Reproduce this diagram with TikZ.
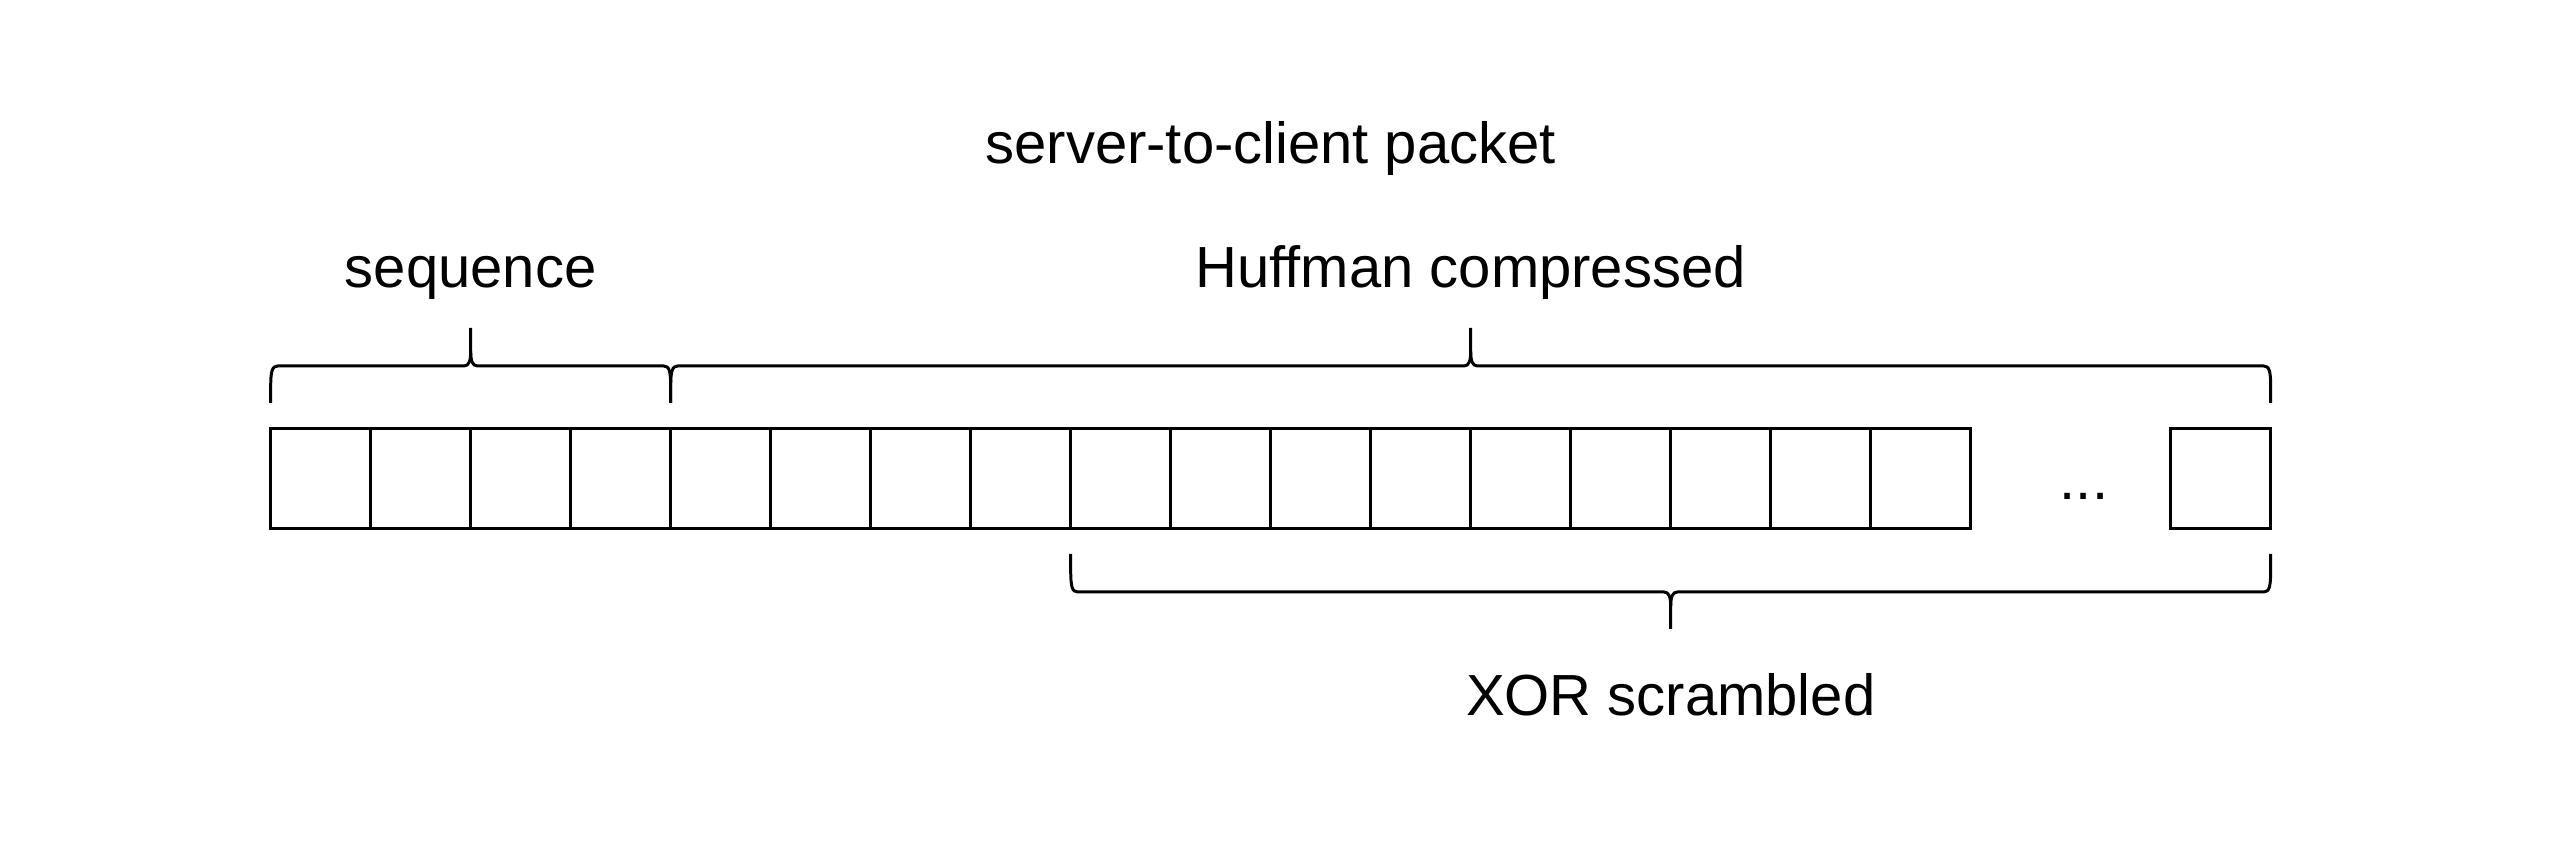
\documentclass[tikz,border=0pt]{standalone}
\usepackage{fontspec}
\setmainfont{Liberation Sans}
\tikzset{
  cell/.style={draw, minimum size=1cm, inner sep=0pt, outer sep=0pt},
  caption/.style={anchor=base, inner sep=0pt, font=\fontsize{16.5}{20}\selectfont},
  bracket/.style={line width=0.85pt, line join=round}
}
\begin{document}
\begin{tikzpicture}[line width=0.85pt]
      \useasboundingbox (0,0) rectangle (25.6,8.47);
      \draw
        (3.207,3.685) node[cell] (c1){}
        (4.207,3.685) node[cell] (c2){}
        (5.207,3.685) node[cell] (c3){}
        (6.207,3.685) node[cell] (c4){}
        (7.207,3.685) node[cell] (c5){}
        (8.207,3.685) node[cell] (c6){}
        (9.207,3.685) node[cell] (c7){}
        (10.207,3.685) node[cell] (c8){}
        (11.207,3.685) node[cell] (c9){}
        (12.207,3.685) node[cell] (c10){}
        (13.207,3.685) node[cell] (c11){}
        (14.207,3.685) node[cell] (c12){}
        (15.207,3.685) node[cell] (c13){}
        (16.207,3.685) node[cell] (c14){}
        (17.207,3.685) node[cell] (c15){}
        (18.207,3.685) node[cell] (c16){}
        (19.207,3.685) node[cell] (c17){}
        (22.207,3.685) node[cell] (clast){};
      \node[caption] (dots) at (20.84,3.47) {...};
      \node[caption] (title) at (12.707,6.83) {server-to-client packet};
      \node[caption] (seq) at (4.707,5.59) {sequence};
      \node[caption] (huff) at (14.707,5.59) {Huffman compressed};
      \node[caption] (xor) at (16.707,1.31) {XOR scrambled};
      % braces
      \coordinate (seqL) at (2.707,4.44);
      \coordinate (seqR) at (6.707,4.44);
      \coordinate (huffR) at (22.707,4.44);
      \coordinate (xorL) at (10.707,2.93);
      \coordinate (xorR) at (22.707,2.93);
      \begin{scope}[bracket]
        \draw (seqL) -- (2.707,4.60) .. controls (2.707,4.76) and (2.722,4.81) .. (2.777,4.81)
          -- (4.64,4.81) .. controls (4.69,4.81) and (4.707,4.86) .. (4.707,4.96) -- (4.707,5.19);
        \draw (4.707,4.96) .. controls (4.707,4.86) and (4.724,4.81) .. (4.774,4.81)
          -- (6.637,4.81) .. controls (6.692,4.81) and (6.707,4.76) .. (6.707,4.60) -- (seqR);
        \draw (seqR) -- (6.707,4.60) .. controls (6.707,4.76) and (6.722,4.81) .. (6.777,4.81)
          -- (14.64,4.81) .. controls (14.69,4.81) and (14.707,4.86) .. (14.707,4.96) -- (14.707,5.19);
        \draw (14.707,4.96) .. controls (14.707,4.86) and (14.724,4.81) .. (14.774,4.81)
          -- (22.637,4.81) .. controls (22.692,4.81) and (22.707,4.76) .. (22.707,4.60) -- (huffR);
        \draw (xorL) -- (10.707,2.77) .. controls (10.707,2.60) and (10.722,2.55) .. (10.777,2.55)
          -- (16.64,2.55) .. controls (16.69,2.55) and (16.707,2.50) .. (16.707,2.40) -- (16.707,2.18);
        \draw (16.707,2.40) .. controls (16.707,2.50) and (16.724,2.55) .. (16.774,2.55)
          -- (22.637,2.55) .. controls (22.692,2.55) and (22.707,2.60) .. (22.707,2.77) -- (xorR);
      \end{scope}
    \end{tikzpicture}
\end{document}
